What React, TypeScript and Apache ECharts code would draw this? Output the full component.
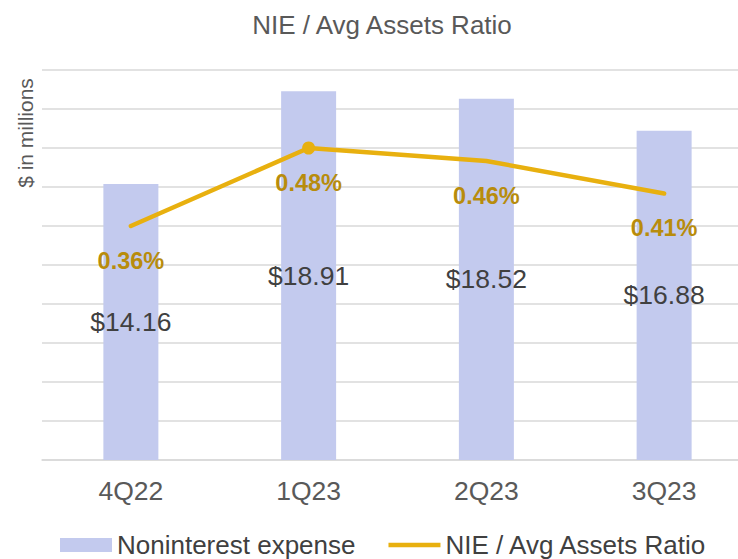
import React, { useEffect, useRef } from "react";
import * as echarts from "echarts";

const categories = ["4Q22", "1Q23", "2Q23", "3Q23"];
const expenseValues = [14.16, 18.91, 18.52, 16.88];
const ratioValues = [0.36, 0.48, 0.46, 0.41];
const markedIndex = 1;

export default function App() {
  const ref = useRef<HTMLDivElement>(null);
  useEffect(() => {
    if (!ref.current) return;
    document.body.style.margin = "0";
    const chart = echarts.init(ref.current, undefined, { renderer: "svg" });
    const font = "Liberation Sans, Arial, sans-serif";
    const gold = "#e8b00f";
    chart.setOption({
      animation: false,
      backgroundColor: "#ffffff",
      textStyle: { fontFamily: font },
      title: {
        text: "NIE / Avg Assets Ratio",
        left: 377,
        textAlign: "center",
        top: 7,
        textStyle: { fontFamily: font, fontSize: 26, fontWeight: "normal", color: "#595959" },
      },
      graphic: [
        {
          type: "text",
          x: 25,
          y: 133,
          rotation: Math.PI / 2,
          style: {
            text: "$ in millions",
            fontFamily: font,
            fontSize: 21,
            fill: "#595959",
            align: "center",
            verticalAlign: "middle",
          },
        },
      ],
      legend: {
        top: 527,
        left: 55,
        itemGap: 33,
        itemWidth: 52,
        itemHeight: 14,
        textStyle: { fontFamily: font, fontSize: 26, color: "#404040" },
        data: [
          { name: "Noninterest expense", icon: "rect" },
          { name: "NIE / Avg Assets Ratio", icon: "path://M0,0 H52 V4.5 H0 Z" },
        ],
      },
      grid: { left: 42, top: 70, right: 0, height: 390, containLabel: false },
      xAxis: {
        type: "category",
        data: categories,
        axisLine: { show: true, lineStyle: { color: "#d9d9d9", width: 1.5 } },
        axisTick: { show: false },
        axisLabel: { fontFamily: font, fontSize: 26.5, color: "#595959", margin: 17 },
      },
      yAxis: [
        {
          type: "value",
          min: 0,
          max: 20,
          interval: 2,
          axisLabel: { show: false },
          axisLine: { show: false },
          axisTick: { show: false },
          splitLine: { lineStyle: { color: "#d9d9d9", width: 1.5 } },
        },
        {
          type: "value",
          min: 0,
          max: 0.6,
          interval: 0.06,
          axisLabel: { show: false },
          axisLine: { show: false },
          axisTick: { show: false },
          splitLine: { show: false },
        },
      ],
      series: [
        {
          name: "Noninterest expense",
          type: "bar",
          data: expenseValues,
          barWidth: 55,
          itemStyle: { color: "#c3caee" },
          label: {
            show: true,
            position: "inside",
            formatter: (p: any) => "$" + p.value.toFixed(2),
            fontFamily: font,
            fontSize: 26.5,
            color: "#404040",
          },
        },
        {
          name: "NIE / Avg Assets Ratio",
          type: "line",
          yAxisIndex: 1,
          symbol: "circle",
          symbolSize: 13,
          data: ratioValues.map((v, i) =>
            i === markedIndex
              ? { value: v }
              : { value: v, itemStyle: { color: "rgba(0,0,0,0)" } }
          ),
          lineStyle: { color: gold, width: 4.5, cap: "round", join: "round" },
          itemStyle: { color: gold },
          label: {
            show: true,
            position: "bottom",
            distance: 16,
            formatter: (p: any) => p.value.toFixed(2) + "%",
            fontFamily: font,
            fontSize: 23.5,
            fontWeight: "bold",
            color: "#b88c0c",
          },
        },
      ],
    });
    return () => chart.dispose();
  }, []);
  return (
    <div style={{ width: 738, height: 559, overflow: "hidden", position: "relative" }}>
      <div ref={ref} style={{ width: 753, height: 559 }} />
    </div>
  );
}
